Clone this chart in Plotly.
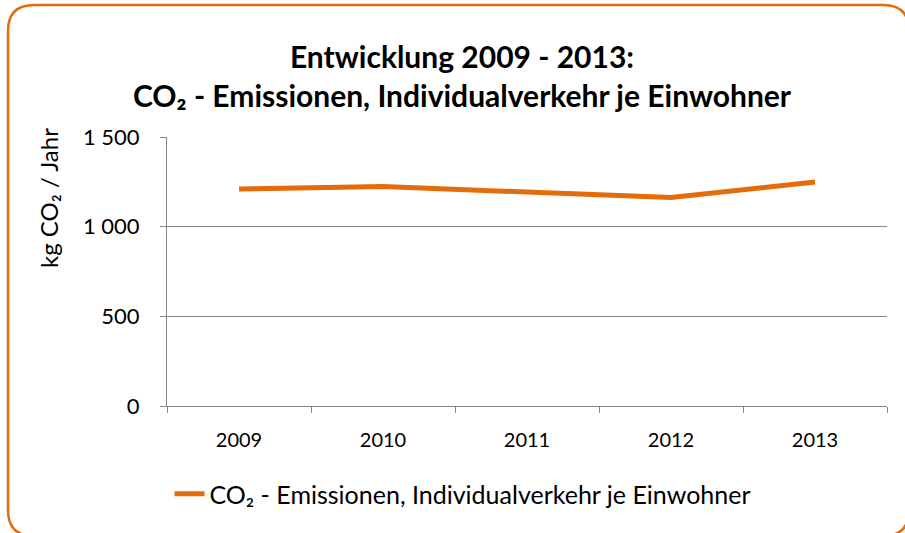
import plotly.graph_objects as go

years = ["2009", "2010", "2011", "2012", "2013"]
co2_per_capita = [1210, 1224, 1193, 1163, 1249]
y_tick_vals = [0, 500, 1000, 1500]
y_tick_text = ["0", "500", "1 000", "1 500"]

series_name = "CO₂ - Emissionen, Individualverkehr je Einwohner"
title_text = "<b>Entwicklung 2009 - 2013:<br>CO₂ - Emissionen, Individualverkehr je Einwohner</b>"
y_title = "kg CO₂ / Jahr"

FONT = "Lato"
ORANGE = "#E46C0A"
GRID = "#868686"

W, H = 905, 533
L, R, T, B = 167, 18, 137, 127
pw, ph = W - L - R, H - T - B


def px2paper(x, y):
    return (x - L) / pw, (H - B - y) / ph


fig = go.Figure()
fig.add_trace(go.Scatter(
    x=years, y=co2_per_capita, mode="lines", name=series_name,
    line=dict(color=ORANGE, width=5),
))

# rounded border in paper coordinates (extends slightly past the right/bottom edge)
x0, y0, x1, y1, r = 8, 5, 909, 536, 26
def P(x, y):
    a, b = px2paper(x, y)
    return f"{a:.5f},{b:.5f}"
path = (f"M {P(x0 + r, y0)} L {P(x1 - r, y0)} Q {P(x1, y0)} {P(x1, y0 + r)} "
        f"L {P(x1, y1 - r)} Q {P(x1, y1)} {P(x1 - r, y1)} "
        f"L {P(x0 + r, y1)} Q {P(x0, y1)} {P(x0, y1 - r)} "
        f"L {P(x0, y0 + r)} Q {P(x0, y0)} {P(x0 + r, y0)} Z")
fig.add_shape(type="path", path=path, xref="paper", yref="paper",
              line=dict(color=ORANGE, width=2.5), layer="below")

# y-axis title placed near the top, like the original
fig.add_annotation(text=y_title, textangle=-90, xref="paper", yref="paper",
                   x=px2paper(48, 198)[0], y=px2paper(48, 198)[1],
                   xanchor="center", yanchor="middle", showarrow=False,
                   font=dict(family=FONT, size=24, color="#000000"))

fig.update_layout(
    width=W, height=H,
    margin=dict(l=L, r=R, t=T, b=B, autoexpand=False),
    paper_bgcolor="white", plot_bgcolor="white",
    font=dict(family=FONT, color="#000000", size=20),
    title=dict(text=title_text, x=462 / W, xanchor="center", xref="container",
               yref="container", y=1 - 68 / H, yanchor="middle",
               font=dict(family=FONT, size=30, color="#000000")),
    showlegend=True,
    legend=dict(orientation="h", xref="container", x=463 / W, xanchor="center",
                y=-(494 - 406) / ph, yanchor="middle",
                font=dict(family=FONT, size=25, color="#000000")),
    xaxis=dict(type="category", range=[-0.5, 4.5], tickson="boundaries",
               ticks="outside", ticklen=6, automargin=False,
               tickcolor=GRID, showline=True, linecolor=GRID, linewidth=1,
               showgrid=False, ticklabelstandoff=16,
               tickfont=dict(family=FONT, size=20, color="#000000")),
    yaxis=dict(range=[0, 1500], tickvals=y_tick_vals, ticktext=y_tick_text,
               ticks="outside", ticklen=6, tickcolor=GRID, showline=True,
               automargin=False,
               linecolor=GRID, linewidth=1, showgrid=True, gridcolor=GRID,
               gridwidth=1, zeroline=False, ticklabelstandoff=16,
               tickfont=dict(family=FONT, size=22, color="#000000")),
)

fig.write_html("out.html", config={"displayModeBar": False},
               post_script="document.body.style.margin='0';")
